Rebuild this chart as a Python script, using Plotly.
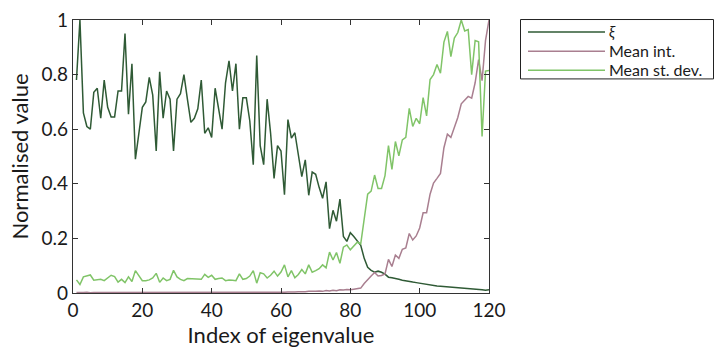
import plotly.graph_objects as go

index = list(range(1, 121))

xi = [0.78, 1.0, 0.66, 0.61, 0.60, 0.735, 0.75, 0.64, 0.78, 0.68,
      0.645, 0.645, 0.74, 0.74, 0.95, 0.655, 0.84, 0.49, 0.585, 0.68,
      0.70, 0.79, 0.725, 0.52, 0.81, 0.64, 0.74, 0.71, 0.52, 0.71,
      0.73, 0.80, 0.71, 0.625, 0.64, 0.675, 0.78, 0.585, 0.605, 0.57,
      0.75, 0.68, 0.60, 0.77, 0.85, 0.74, 0.84, 0.60, 0.715, 0.715,
      0.63, 0.47, 0.87, 0.54, 0.47, 0.71, 0.585, 0.42, 0.54, 0.52,
      0.36, 0.635, 0.567, 0.587, 0.514, 0.426, 0.488, 0.358, 0.443, 0.435,
      0.387, 0.347, 0.407, 0.236, 0.303, 0.263, 0.344, 0.207, 0.189, 0.221,
      0.207, 0.192, 0.175, 0.127, 0.094, 0.083, 0.076, 0.080, 0.076, 0.069,
      0.058, 0.056, 0.054, 0.050, 0.047, 0.044, 0.042, 0.040, 0.038, 0.036,
      0.033, 0.031, 0.028, 0.027, 0.026, 0.025, 0.024, 0.023, 0.022, 0.021,
      0.020, 0.019, 0.018, 0.018, 0.017, 0.016, 0.015, 0.012, 0.010, 0.012]

mean_int = [0.002, 0.001, 0.002, 0.003, 0.001, 0.002, 0.002, 0.001, 0.003, 0.002,
            0.001, 0.002, 0.002, 0.003, 0.001, 0.002, 0.001, 0.002, 0.003, 0.002,
            0.002, 0.001, 0.002, 0.002, 0.003, 0.001, 0.002, 0.002, 0.001, 0.002,
            0.003, 0.002, 0.001, 0.002, 0.002, 0.003, 0.002, 0.001, 0.002, 0.002,
            0.003, 0.002, 0.002, 0.001, 0.002, 0.003, 0.002, 0.002, 0.002, 0.003,
            0.002, 0.002, 0.003, 0.002, 0.003, 0.002, 0.003, 0.003, 0.002, 0.003,
            0.003, 0.004, 0.003, 0.004, 0.005, 0.004, 0.005, 0.006, 0.005, 0.006,
            0.007, 0.006, 0.009, 0.007, 0.010, 0.008, 0.012, 0.011, 0.013, 0.012,
            0.014, 0.015, 0.018, 0.035, 0.050, 0.062, 0.075, 0.062, 0.064, 0.070,
            0.123, 0.097, 0.139, 0.127, 0.160, 0.165, 0.218, 0.194, 0.209, 0.238,
            0.294, 0.294, 0.362, 0.403, 0.420, 0.438, 0.532, 0.582, 0.570, 0.608,
            0.643, 0.693, 0.705, 0.720, 0.714, 0.770, 0.855, 0.778, 0.925, 1.0]

mean_std = [0.048, 0.031, 0.059, 0.062, 0.066, 0.047, 0.048, 0.050, 0.045, 0.055,
            0.065, 0.060, 0.040, 0.050, 0.038, 0.059, 0.042, 0.082, 0.062, 0.045,
            0.045, 0.048, 0.055, 0.072, 0.039, 0.055, 0.045, 0.050, 0.083, 0.059,
            0.050, 0.045, 0.053, 0.052, 0.052, 0.052, 0.050, 0.068, 0.057, 0.065,
            0.050, 0.053, 0.055, 0.045, 0.048, 0.047, 0.045, 0.070, 0.050, 0.053,
            0.062, 0.082, 0.036, 0.074, 0.070, 0.055, 0.065, 0.080, 0.062, 0.077,
            0.103, 0.059, 0.082, 0.056, 0.068, 0.086, 0.070, 0.103, 0.076, 0.082,
            0.089, 0.103, 0.092, 0.150, 0.121, 0.148, 0.109, 0.168, 0.176, 0.158,
            0.174, 0.186, 0.180, 0.268, 0.362, 0.373, 0.432, 0.383, 0.383, 0.430,
            0.540, 0.453, 0.555, 0.502, 0.561, 0.570, 0.676, 0.610, 0.640, 0.620,
            0.716, 0.649, 0.782, 0.800, 0.837, 0.805, 0.919, 0.958, 0.866, 0.934,
            0.954, 1.0, 0.960, 0.965, 0.800, 0.925, 0.920, 0.573, 0.813, 0.815]

series_names = ["<i>ξ</i>", "Mean int.", "Mean st. dev."]
series_colors = ["#2f5a35", "#a97f90", "#80c468"]
x_ticks = [0, 20, 40, 60, 80, 100, 120]
y_ticks = [0, 0.2, 0.4, 0.6, 0.8, 1]
y_tick_text = ["0", "0.2", "0.4", "0.6", "0.8", "1"]

FONT = "Lato"

fig = go.Figure()
for name, ys, col in zip(series_names, [xi, mean_int, mean_std], series_colors):
    fig.add_trace(go.Scatter(x=index, y=ys, mode="lines", name=name,
                             line=dict(color=col, width=1.5), showlegend=False))

axis_common = dict(showline=True, linecolor="#333333", linewidth=1.2, mirror="ticks",
                   ticks="inside", ticklen=5, tickcolor="#333333", tickwidth=1.2,
                   showgrid=False, zeroline=False, ticklabeloverflow="allow",
                   tickfont=dict(family=FONT, size=19, color="#1a1a1a"))

fig.update_layout(
    width=720, height=349,
    margin=dict(l=73, r=231, t=8, b=56),
    paper_bgcolor="white", plot_bgcolor="white",
    xaxis=dict(range=[0, 120], tickvals=x_ticks,
               title=dict(text="Index of eigenvalue", font=dict(family=FONT, size=22, color="#1a1a1a"), standoff=2),
               **axis_common),
    yaxis=dict(range=[0, 1], tickvals=y_ticks, ticktext=y_tick_text,
               title=dict(text="Normalised value", font=dict(family=FONT, size=22, color="#1a1a1a"), standoff=6),
               **axis_common),
)

# Legend box (manual, to match long line samples)
def px_to_paper_x(px):
    return (px - 73) / 416.0

def py_to_paper_y(py):
    return (293 - py) / 285.0

fig.add_shape(type="rect", xref="paper", yref="paper",
              x0=px_to_paper_x(520.5), x1=px_to_paper_x(713.5),
              y0=py_to_paper_y(69.5), y1=py_to_paper_y(7.5),
              line=dict(color="#222222", width=1), fillcolor="white", layer="above")
for k, (name, col) in enumerate(zip(series_names, series_colors)):
    yy = [20.5, 40.5, 60.5][k]
    fig.add_shape(type="line", xref="paper", yref="paper",
                  x0=px_to_paper_x(528), x1=px_to_paper_x(605),
                  y0=py_to_paper_y(yy), y1=py_to_paper_y(yy),
                  line=dict(color=col, width=1.5), layer="above")
    fig.add_annotation(xref="paper", yref="paper", x=px_to_paper_x(608), y=py_to_paper_y(yy - 1),
                       text=name, showarrow=False, xanchor="left", yanchor="middle",
                       borderpad=0,
                       font=dict(family=FONT, size=16, color="#1a1a1a"))

fig.write_html("out.html")
